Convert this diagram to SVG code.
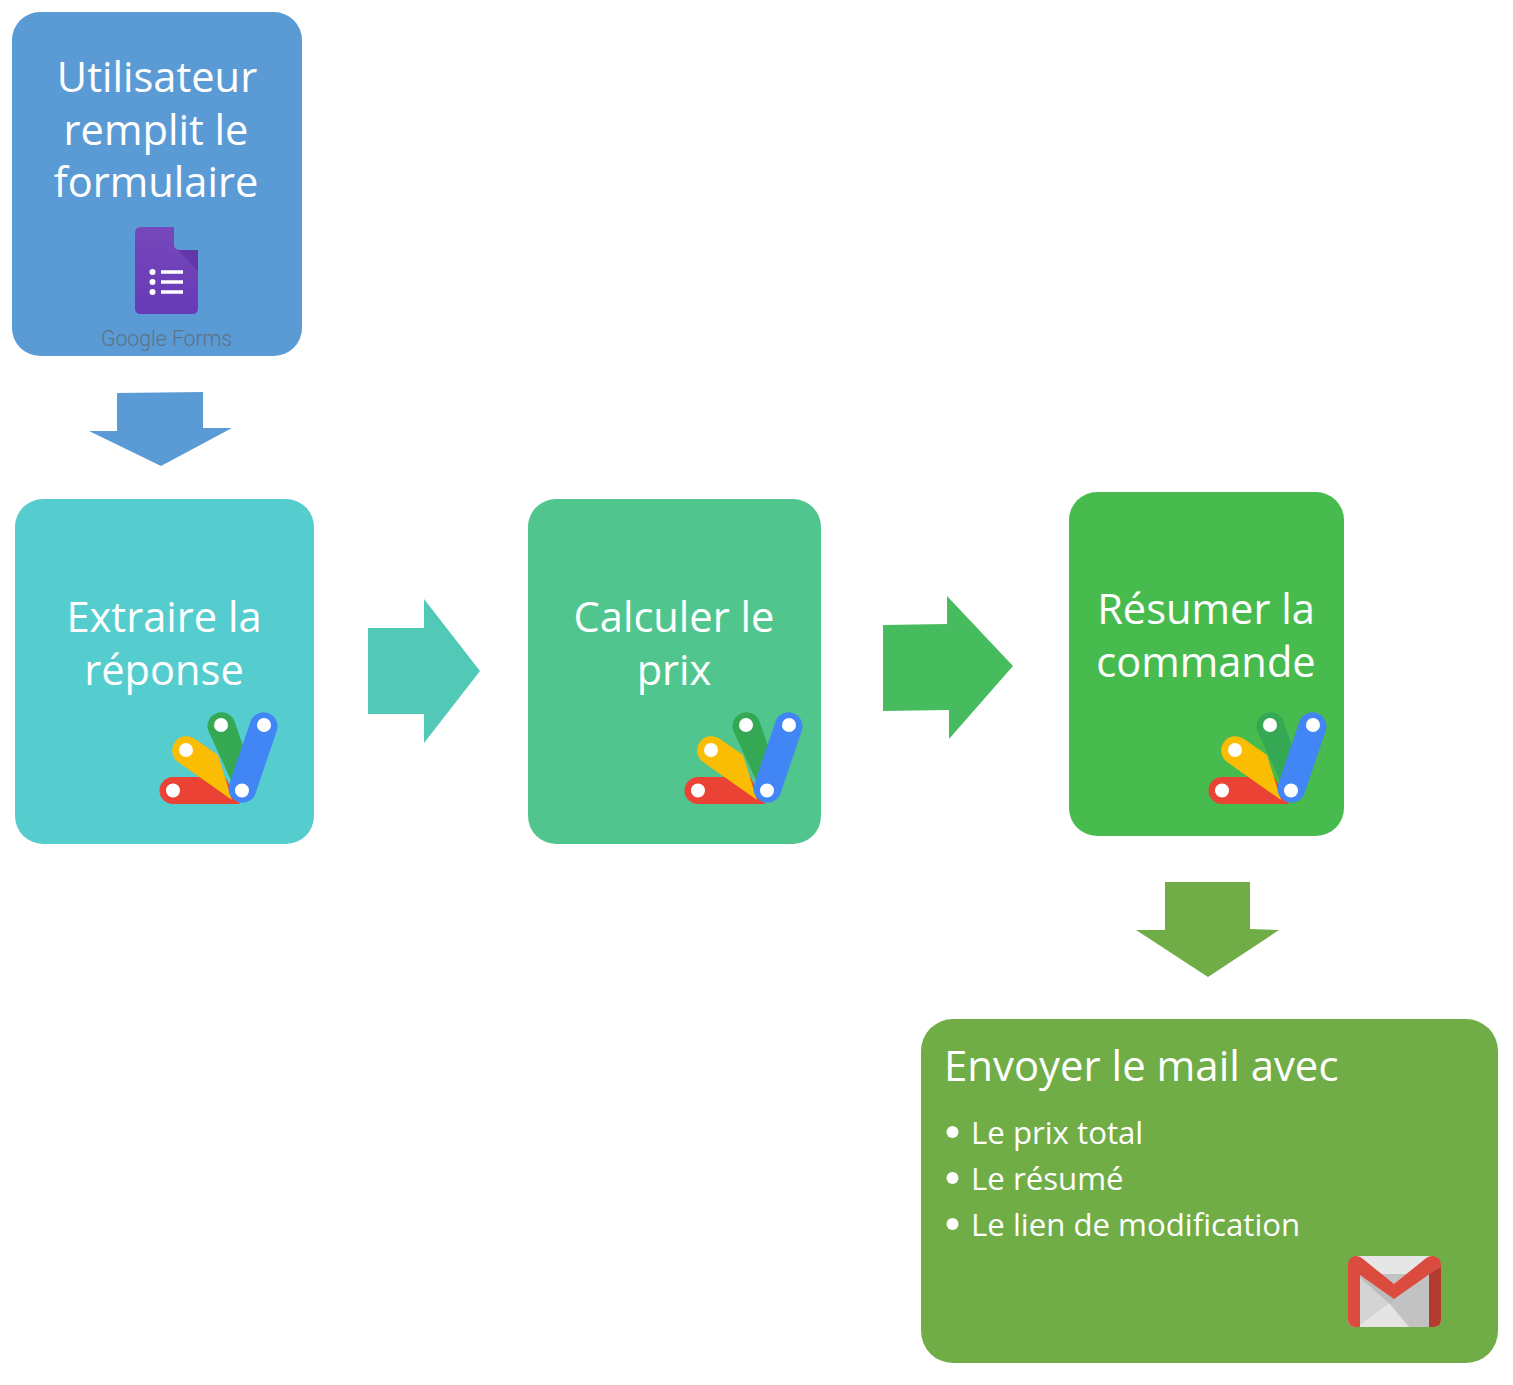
<svg xmlns="http://www.w3.org/2000/svg" width="1513" height="1385" viewBox="0 0 1513 1385">
<style>
text{font-family:"Open Sans","Noto Sans","Liberation Sans",sans-serif;fill:#fff}
.t{font-size:41.600px;text-anchor:middle}
.s{font-size:31.200px}
</style>
<defs>
<g id="gas">
<path d="M208 730A14 14 0 0 1 234 720L255 780L240 800Z" fill="#34a853"/>
<path d="M173 777H225L240 804H173A13.500 13.500 0 0 1 173 777Z" fill="#ea4335"/>
<path d="M195 739L218 755L232 800L178 762A14 14 0 0 1 195 739Z" fill="#fbbc04"/>
<path d="M251 720A14 14 0 0 1 277 730L255 795A14 14 0 0 1 229 785Z" fill="#4285f4"/>
<circle cx="173" cy="790.500" r="7" fill="#fff"/>
<circle cx="186" cy="750" r="7" fill="#fff"/>
<circle cx="221" cy="725" r="7" fill="#fff"/>
<circle cx="264" cy="725" r="7" fill="#fff"/>
<circle cx="242" cy="790.500" r="7" fill="#fff"/>
</g>
<linearGradient id="formsBody" x1="0" y1="0" x2="0" y2="1">
<stop offset="0" stop-color="#7648bb"/>
<stop offset="1" stop-color="#673ab7"/>
</linearGradient>
</defs>
<g id="connectors">
<polygon points="117,393 203,392 203,428 232,428 161,466 89,431 117,431" fill="#5b9bd5"/>
<polygon points="368,628 424,628 424,599 480,671 424,743 424,714 368,714" fill="#52c9b7"/>
<polygon points="883,625 947,624 947,596 1013,666 949,739 949,710 883,711" fill="#47bc5e"/>
<polygon points="1165,882 1250,882 1250,929 1279,930 1208,977 1136,930 1165,930" fill="#70ad47"/>
</g>
<g id="node-form">
<rect x="12" y="12" width="290" height="344" rx="28" fill="#5b9bd5"/>
<text class="t" x="157" y="92">Utilisateur</text>
<text class="t" x="156" y="145">remplit le</text>
<text class="t" x="156" y="197">formulaire</text>
<path d="M141 227H174V244Q174 250 180 250H198V308Q198 314 192 314H141Q135 314 135 308V233Q135 227 141 227Z" fill="url(#formsBody)"/>
<path d="M176 248Q177 250 180 250H198V271Z" fill="#6238a8"/>
<circle cx="152.500" cy="272" r="3" fill="#fff"/>
<circle cx="152.500" cy="282" r="3" fill="#fff"/>
<circle cx="152.500" cy="292" r="3" fill="#fff"/>
<path d="M161 272H183M161 282H183M161 292H183" stroke="#fff" stroke-width="3.500" fill="none"/>
<text x="101" y="346" font-size="21.200" font-weight="300" style="fill:#5d7186;font-family:Roboto,'Liberation Sans',sans-serif">Google Forms</text>
</g>
<g id="node-extract">
<rect x="15" y="499" width="299" height="345" rx="28" fill="#55cdcf"/>
<text class="t" x="164" y="632">Extraire la</text>
<text class="t" x="164" y="685">réponse</text>
<use href="#gas"/>
</g>
<g id="node-price">
<rect x="528" y="499" width="293" height="345" rx="28" fill="#50c68e"/>
<text class="t" x="674" y="632">Calculer le</text>
<text class="t" x="674" y="685">prix</text>
<use href="#gas" x="525"/>
</g>
<g id="node-summary">
<rect x="1069" y="492" width="275" height="344" rx="28" fill="#48bb4f"/>
<text class="t" x="1206" y="624">Résumer la</text>
<text class="t" x="1206" y="677">commande</text>
<use href="#gas" x="1049"/>
</g>
<g id="node-mail">
<rect x="921" y="1019" width="577" height="344" rx="32" fill="#70ad47"/>
<text x="944" y="1081" font-size="41.900">Envoyer le mail avec</text>
<circle cx="952.500" cy="1132" r="6" fill="#fff"/>
<circle cx="952.500" cy="1178" r="6" fill="#fff"/>
<circle cx="952.500" cy="1224" r="6" fill="#fff"/>
<text class="s" x="971" y="1144">Le prix total</text>
<text class="s" x="971" y="1190">Le résumé</text>
<text class="s" x="971" y="1236">Le lien de modification</text>
<path d="M1358 1256H1431L1441 1266V1320Q1441 1327 1434 1327H1355Q1348 1327 1348 1320V1266Z" fill="#e6e6e6"/>
<path d="M1359 1274L1429 1274V1327H1409L1359 1278Z" fill="#c2c2c2"/>
<path d="M1359 1275L1389 1305L1395 1299V1297Z" fill="#bcbcbc"/>
<path d="M1360 1327L1389 1303L1409 1327Z" fill="#e4e4e4"/>
<path d="M1360 1278V1325L1389 1303Z" fill="#d4d4d4"/>
<path d="M1348 1266Q1348 1256 1356 1256Q1360 1256 1363 1259L1394 1284L1425 1259Q1428 1256 1432 1256Q1441 1256 1441 1266L1394 1299L1360 1275V1327H1355Q1348 1327 1348 1320Z" fill="#db4c3f"/>
<path d="M1429 1274L1441 1266V1320Q1441 1327 1434 1327H1429Z" fill="#b23c30"/>
</g>
</svg>
